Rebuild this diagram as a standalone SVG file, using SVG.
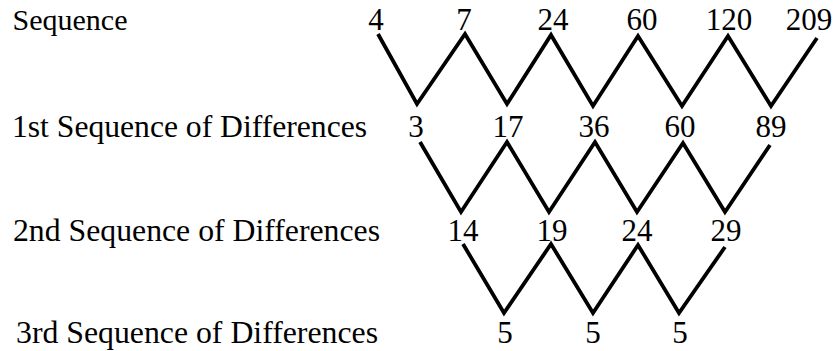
<svg xmlns="http://www.w3.org/2000/svg" width="838" height="351" viewBox="0 0 838 351">
<style>
text{font-family:'Liberation Serif','DejaVu Serif',serif;fill:#000}
.lab{font-size:32px}
.num{font-size:31px;text-anchor:middle}
.zz{fill:none;stroke:#000;stroke-width:3.8;stroke-linejoin:miter;stroke-miterlimit:10}
</style>
<rect width="838" height="351" fill="#fff"/>
<g id="labels" font-family="Liberation Serif, serif">
<g id="label-seq"><text class="lab" x="12.5" y="29.5" style="font-size:30px" textLength="115" lengthAdjust="spacingAndGlyphs">Sequence</text></g>
<g id="label-d1"><text class="lab" x="12" y="136.5" textLength="355" lengthAdjust="spacingAndGlyphs">1st Sequence of Differences</text></g>
<g id="label-d2"><text class="lab" x="13" y="240.5" textLength="367" lengthAdjust="spacingAndGlyphs">2nd Sequence of Differences</text></g>
<g id="label-d3"><text class="lab" x="16" y="343" textLength="362" lengthAdjust="spacingAndGlyphs">3rd Sequence of Differences</text></g>
</g>
<g id="connectors">
<polyline class="zz" points="378,34 417,104 465,34 507,104 551,35 593,106 638,36 682,106 728,36 771,106 817,38"/>
<polyline class="zz" points="420,142 461,212 507,142 549,212 595,142 637,212 683,143 725,212 770,145"/>
<polyline class="zz" points="463,244 504,313 551,244 593,313 638,245 679,313 725,247"/>
</g>
<g id="row0">
<g id="n0-0"><text class="num" x="376" y="29.5">4</text></g>
<g id="n0-1"><text class="num" x="464" y="29.5">7</text></g>
<g id="n0-2"><text class="num" x="553" y="29.5">24</text></g>
<g id="n0-3"><text class="num" x="642" y="29.5">60</text></g>
<g id="n0-4"><text class="num" x="729" y="29.5">120</text></g>
<g id="n0-5"><text class="num" x="809" y="29.5">209</text></g>
</g>
<g id="row1">
<g id="n1-0"><text class="num" x="416" y="136.5">3</text></g>
<g id="n1-1"><text class="num" x="508" y="136.5">17</text></g>
<g id="n1-2"><text class="num" x="594" y="136.5">36</text></g>
<g id="n1-3"><text class="num" x="680" y="136.5">60</text></g>
<g id="n1-4"><text class="num" x="771" y="136.5">89</text></g>
</g>
<g id="row2">
<g id="n2-0"><text class="num" x="463" y="240.5">14</text></g>
<g id="n2-1"><text class="num" x="552" y="240.5">19</text></g>
<g id="n2-2"><text class="num" x="637" y="240.5">24</text></g>
<g id="n2-3"><text class="num" x="726" y="240.5">29</text></g>
</g>
<g id="row3">
<g id="n3-0"><text class="num" x="505" y="343">5</text></g>
<g id="n3-1"><text class="num" x="593" y="343">5</text></g>
<g id="n3-2"><text class="num" x="680" y="343">5</text></g>
</g>
</svg>
